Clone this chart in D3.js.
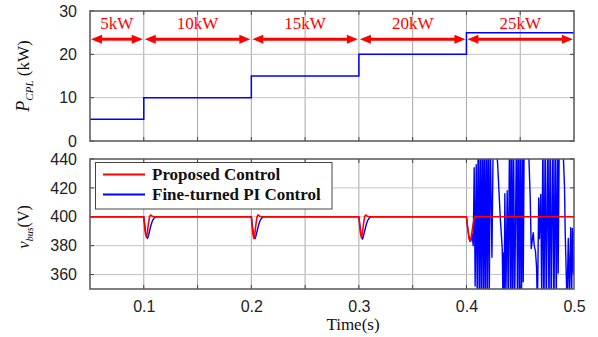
<!DOCTYPE html>
<html><head><meta charset="utf-8">
<script src="https://cdn.jsdelivr.net/npm/d3@7/dist/d3.min.js"></script>
<style>body{margin:0;background:#fff}svg{display:block}</style>
</head><body><svg id="c" width="598" height="337"></svg>
<script>
// ---------- data ----------
const stepTimes = [0.05, 0.1, 0.2, 0.3, 0.4, 0.5];
const powerKW   = [5, 10, 15, 20, 25, 25];
const segLabels = ["5kW", "10kW", "15kW", "20kW", "25kW"];
const xTickVals = [0.1, 0.2, 0.3, 0.4, 0.5];
const xGridVals = [0.1, 0.15, 0.2, 0.25, 0.3, 0.35, 0.4, 0.45];
const pTickVals = [0, 10, 20, 30];
const vTickVals = [360, 380, 400, 420, 440];
const legendNames = ["Proposed Control", "Fine-turned PI Control"];

const proposedCtrl = [
  [0.05,400],[0.1,400],[0.1008,393],[0.1016,388],[0.1024,386],[0.1033,389],[0.1043,395],[0.1053,400],[0.1062,401.2],[0.1075,400.6],[0.109,400.1],[0.11,400],
  [0.2,400],[0.2008,393],[0.2016,387.5],[0.2024,385],[0.2033,388.5],[0.2043,395],[0.2053,400],[0.2062,401.3],[0.2075,400.6],[0.209,400.1],[0.21,400],
  [0.3,400],[0.3008,393],[0.3016,388],[0.3024,385.5],[0.3033,389],[0.3043,395],[0.3053,400],[0.3062,401.2],[0.3075,400.6],[0.309,400.1],[0.31,400],
  [0.4,400],[0.4012,392],[0.4024,385],[0.4035,383],[0.4045,386],[0.4058,393],[0.4072,399],[0.408,400.3],[0.409,400],
  [0.5,400]
];

const piCtrl = [
  [0.05,400],[0.1,400],[0.1008,395],[0.1018,389],[0.1027,386],[0.1034,385],[0.1042,386.5],[0.1055,390.5],[0.1068,394.5],[0.1082,397.5],[0.1098,399.3],[0.1115,400],
  [0.2,400],[0.2008,395],[0.2018,389],[0.2027,386],[0.2034,384.8],[0.2042,386.5],[0.2055,390.5],[0.2068,394.5],[0.2082,397.5],[0.2098,399.3],[0.2115,400],
  [0.3,400],[0.3008,395],[0.3018,389],[0.3027,386],[0.3034,384.5],[0.3042,386.5],[0.3055,390.5],[0.3068,394.5],[0.3082,397.5],[0.3098,399.3],[0.3115,400],
  [0.4,400],[0.4012,392],[0.4026,385],[0.404,383],[0.4053,388],[0.4063,380],[0.4072,434],[0.4081,352],[0.4091,436],[0.41,345],
  [0.4109,455],[0.4119,338],[0.4128,462],[0.4137,335],[0.4147,465],[0.4156,332],[0.4165,465],[0.4174,330],[0.4184,465],[0.4193,335],
  [0.4202,462],[0.4212,340],[0.4221,458],[0.4237,372],[0.4249,455],[0.4267,452],[0.4289,438],[0.4314,400],[0.4333,378],[0.4339,345],
  [0.4345,375],[0.4351,340],[0.4357,416],[0.4367,345],[0.4379,418],[0.4388,340],[0.4401,460],[0.441,330],[0.4419,465],[0.4428,330],
  [0.4438,465],[0.4447,330],[0.4466,465],[0.4475,330],[0.4484,465],[0.4494,335],[0.4503,462],[0.4512,340],[0.4522,458],[0.4528,355],
  [0.4537,455],[0.4556,460],[0.4581,440],[0.4593,413],[0.4602,378],[0.4621,389],[0.463,380],[0.4642,376],[0.4652,365],[0.466,335],
  [0.4672,413],[0.4679,385],[0.4691,415.5],[0.47,340],[0.4711,460],[0.472,330],[0.4733,465],[0.4742,330],[0.4758,465],[0.4767,330],
  [0.4779,465],[0.4788,330],[0.4804,465],[0.4813,330],[0.4826,462],[0.4835,340],[0.4847,455],[0.4853,361],[0.4863,455],[0.4881,458],
  [0.4902,440],[0.4912,420],[0.4918,390],[0.4928,360],[0.4935,340],[0.4947,385],[0.4956,345],[0.497,392.5],[0.4977,340],[0.4986,392],
  [0.4995,361],[0.5,390]
];

// ---------- layout ----------
const svg = d3.select("#c");
const SANS = "'Liberation Sans', Arial, sans-serif";
const SERIF = "'Liberation Serif', 'Times New Roman', serif";
const L = 90, R = 574;
const top1 = 11, bot1 = 141, top2 = 159, bot2 = 289;

const x = d3.scaleLinear().domain([0.05, 0.5]).range([L, R]);
const yP = d3.scaleLinear().domain([0, 30]).range([bot1, top1]);
const yV = d3.scaleLinear().domain([350, 440]).range([bot2, top2]);

svg.append("defs").selectAll("clipPath").data([["c1", top1, bot1], ["c2", top2, bot2]])
  .join("clipPath").attr("id", d => d[0])
  .append("rect").attr("x", L).attr("y", d => d[1]).attr("width", R - L).attr("height", d => d[2] - d[1]);

function panel(y, top, bot, ticks, showX) {
  const g = svg.append("g");
  g.append("rect").attr("x", L).attr("y", top).attr("width", R - L).attr("height", bot - top).attr("fill", "#fff");
  // grid
  g.selectAll(".vg").data(xGridVals).join("line")
    .attr("x1", d => x(d)).attr("x2", d => x(d)).attr("y1", top).attr("y2", bot)
    .attr("stroke", "#a8a8a8").attr("stroke-width", 1);
  g.selectAll(".hg").data(ticks.filter(t => y(t) > top + 1 && y(t) < bot - 1)).join("line")
    .attr("x1", L).attr("x2", R).attr("y1", d => y(d)).attr("y2", d => y(d))
    .attr("stroke", "#c4c4c4").attr("stroke-width", 1);
  // axes
  const ay = d3.axisLeft(y).tickValues(ticks).tickSize(0).tickPadding(13).tickFormat(d3.format("d"));
  const gy = g.append("g").attr("transform", `translate(${L},0)`).call(ay);
  gy.select(".domain").remove();
  gy.selectAll("text").attr("font-family", SANS).attr("font-size", 16).attr("fill", "#222");
  const ax = d3.axisBottom(x).tickValues(xTickVals).tickSize(0).tickPadding(12).tickFormat(showX ? d3.format(".1f") : "");
  const gx = g.append("g").attr("transform", `translate(0,${bot})`).call(ax);
  gx.select(".domain").remove();
  gx.selectAll("text").attr("font-family", SANS).attr("font-size", 16).attr("fill", "#222");
  // small inner ticks
  g.selectAll(".tb").data(xGridVals).join("line")
    .attr("x1", d => x(d)).attr("x2", d => x(d)).attr("y1", bot).attr("y2", bot - 4)
    .attr("stroke", "#444");
  g.selectAll(".tt").data(xGridVals).join("line")
    .attr("x1", d => x(d)).attr("x2", d => x(d)).attr("y1", top).attr("y2", top + 4)
    .attr("stroke", "#444");
  g.selectAll(".tl").data(ticks).join("line")
    .attr("x1", L).attr("x2", L + 4).attr("y1", d => y(d)).attr("y2", d => y(d)).attr("stroke", "#444");
  g.selectAll(".tr").data(ticks).join("line")
    .attr("x1", R).attr("x2", R - 4).attr("y1", d => y(d)).attr("y2", d => y(d)).attr("stroke", "#444");
  return g;
}

const g1 = panel(yP, top1, bot1, pTickVals, false);
const g2 = panel(yV, top2, bot2, vTickVals, true);

// ---------- top panel: power step ----------
const stepLine = d3.line().x((d, i) => x(stepTimes[i])).y(d => yP(d)).curve(d3.curveStepAfter);
g1.append("path").datum(powerKW).attr("d", stepLine)
  .attr("fill", "none").attr("stroke", "#0000ff").attr("stroke-width", 1.5)
  .attr("clip-path", "url(#c1)");

// arrows + labels
const arrowY = yP(23.5), labelY = yP(25.9);
const hl = 11, hw = 4.5;
segLabels.forEach((lab, i) => {
  const x1 = x(stepTimes[i]) + 1, x2 = x(stepTimes[i + 1]) - 1;
  g1.append("line").attr("x1", x1 + hl - 1).attr("x2", x2 - hl + 1).attr("y1", arrowY).attr("y2", arrowY)
    .attr("stroke", "#ff0000").attr("stroke-width", 3);
  g1.append("path").attr("d", `M${x1},${arrowY}L${x1 + hl},${arrowY - hw}L${x1 + hl},${arrowY + hw}Z`).attr("fill", "#ff0000");
  g1.append("path").attr("d", `M${x2},${arrowY}L${x2 - hl},${arrowY - hw}L${x2 - hl},${arrowY + hw}Z`).attr("fill", "#ff0000");
  g1.append("text").attr("x", (x1 + x2) / 2).attr("y", labelY).attr("text-anchor", "middle")
    .attr("font-family", SERIF).attr("font-size", 17).attr("fill", "#ff0000").text(lab);
});

// ---------- bottom panel: bus voltage ----------
const vLine = d3.line().x(d => x(d[0])).y(d => yV(d[1]));
g2.append("path").datum(piCtrl).attr("d", vLine)
  .attr("fill", "none").attr("stroke", "#0000ff").attr("stroke-width", 1.4).attr("stroke-linejoin", "round")
  .attr("clip-path", "url(#c2)");
g2.append("path").datum(proposedCtrl).attr("d", vLine)
  .attr("fill", "none").attr("stroke", "#ff0000").attr("stroke-width", 1.6).attr("stroke-linejoin", "round")
  .attr("clip-path", "url(#c2)");

// legend
const lg = g2.append("g");
lg.append("rect").attr("x", 95.5).attr("y", 162.5).attr("width", 236.5).attr("height", 46.5)
  .attr("fill", "#fff").attr("stroke", "#444").attr("stroke-width", 1);
const legColors = ["#ff0000", "#0000ff"];
legendNames.forEach((n, i) => {
  const yy = 174.5 + i * 20;
  lg.append("line").attr("x1", 103).attr("x2", 145).attr("y1", yy).attr("y2", yy)
    .attr("stroke", legColors[i]).attr("stroke-width", 2);
  lg.append("text").attr("x", 152).attr("y", yy + 5.5).attr("font-family", SERIF)
    .attr("font-weight", "bold").attr("font-size", 17).attr("fill", "#111").text(n);
});

// frames
[[top1, bot1], [top2, bot2]].forEach(([t, b]) => {
  svg.append("rect").attr("x", L).attr("y", t).attr("width", R - L).attr("height", b - t)
    .attr("fill", "none").attr("stroke", "#555").attr("stroke-width", 1.5);
});

// axis titles
const t1 = svg.append("text").attr("transform", `translate(29,${(top1 + bot1) / 2}) rotate(-90)`)
  .attr("text-anchor", "middle").attr("font-family", SERIF).attr("fill", "#111");
t1.append("tspan").attr("font-style", "italic").attr("font-size", 18).text("P");
t1.append("tspan").attr("font-style", "italic").attr("font-size", 11).attr("dy", 4).text("CPL");
t1.append("tspan").attr("font-size", 17).attr("dy", -4).text(" (kW)");

const t2 = svg.append("text").attr("transform", `translate(29,${(top2 + bot2) / 2 + 3}) rotate(-90)`)
  .attr("text-anchor", "middle").attr("font-family", SERIF).attr("fill", "#111");
t2.append("tspan").attr("font-style", "italic").attr("font-size", 17).text("v");
t2.append("tspan").attr("font-style", "italic").attr("font-size", 10).attr("dy", 4).text("bus");
t2.append("tspan").attr("font-size", 16).attr("dy", -4).text("(V)");

svg.append("text").attr("x", 353).attr("y", 330).attr("text-anchor", "middle")
  .attr("font-family", SERIF).attr("font-size", 17).attr("fill", "#111").text("Time(s)");
</script></body></html>
